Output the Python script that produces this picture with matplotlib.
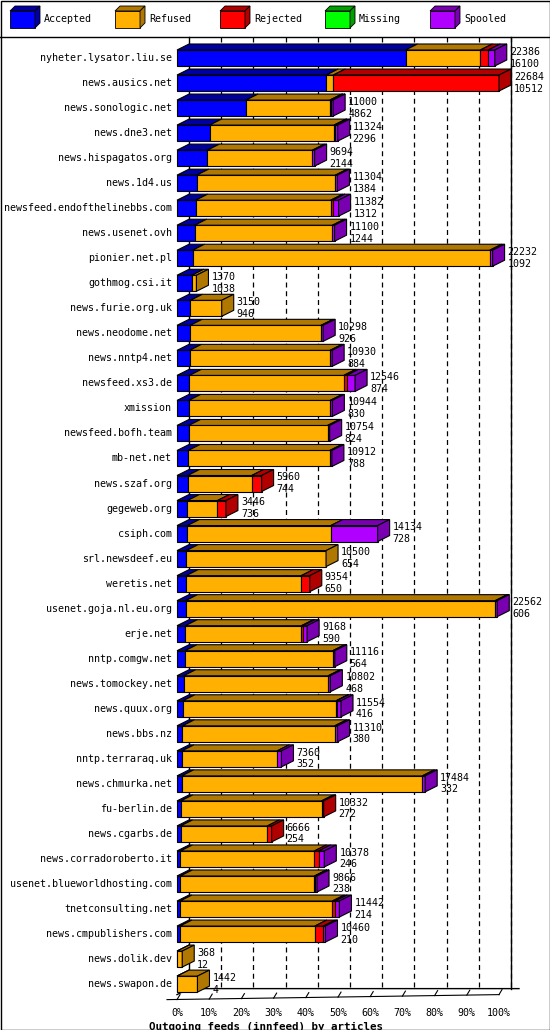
import matplotlib
matplotlib.use("Agg")
import matplotlib.pyplot as plt
from matplotlib.patches import Polygon, Rectangle

hosts = ["nyheter.lysator.liu.se", "news.ausics.net", "news.sonologic.net", "news.dne3.net",
         "news.hispagatos.org", "news.1d4.us", "newsfeed.endofthelinebbs.com", "news.usenet.ovh",
         "pionier.net.pl", "gothmog.csi.it", "news.furie.org.uk", "news.neodome.net",
         "news.nntp4.net", "newsfeed.xs3.de", "xmission", "newsfeed.bofh.team", "mb-net.net",
         "news.szaf.org", "gegeweb.org", "csiph.com", "srl.newsdeef.eu", "weretis.net",
         "usenet.goja.nl.eu.org", "erje.net", "nntp.comgw.net", "news.tomockey.net",
         "news.quux.org", "news.bbs.nz", "nntp.terraraq.uk", "news.chmurka.net", "fu-berlin.de",
         "news.cgarbs.de", "news.corradoroberto.it", "usenet.blueworldhosting.com",
         "tnetconsulting.net", "news.cmpublishers.com", "news.dolik.dev", "news.swapon.de"]
total = [22386, 22684, 11000, 11324, 9694, 11304, 11382, 11100, 22232, 1370, 3150, 10298,
         10930, 12546, 10944, 10754, 10912, 5960, 3446, 14134, 10500, 9354, 22562, 9168,
         11116, 10802, 11554, 11310, 7360, 17484, 10332, 6666, 10378, 9866, 11442, 10460, 368, 1442]
accepted = [16100, 10512, 4862, 2296, 2144, 1384, 1312, 1244, 1092, 1038, 946, 926, 884, 874,
            830, 824, 788, 744, 736, 728, 654, 650, 606, 590, 564, 468, 416, 380, 352, 332,
            272, 254, 246, 238, 214, 210, 12, 4]
rejected = [560, 11672, 80, 60, 0, 0, 150, 0, 0, 0, 0, 0, 0, 200, 0, 0, 0, 700, 600, 0, 0, 600,
            0, 100, 0, 0, 50, 0, 0, 0, 150, 300, 300, 30, 200, 600, 0, 0]
missing = [0] * len(hosts)
spooled = [456, 0, 150, 200, 150, 150, 400, 150, 200, 0, 0, 150, 150, 600, 150, 150, 150, 0, 0,
           3300, 0, 0, 150, 300, 150, 150, 300, 200, 300, 200, 0, 0, 400, 150, 300, 150, 0, 0]
refused = [t - a - r - m - s for t, a, r, m, s in zip(total, accepted, rejected, missing, spooled)]

names = ["Accepted", "Refused", "Rejected", "Missing", "Spooled"]
front = ["#0000ff", "#ffb000", "#ff0000", "#00ff00", "#b000ff"]
side = ["#0000a0", "#b07800", "#b00000", "#00a000", "#7800b0"]

W, H = 550, 1030
fig = plt.figure(figsize=(W / 100, H / 100), dpi=100)
fig.patch.set_facecolor("white")
mono = "DejaVu Sans Mono"
fs = 7.2

# pixel overlay for frames / legend
pax = fig.add_axes([0, 0, 1, 1])
pax.set_xlim(0, W)
pax.set_ylim(H, 0)
pax.axis("off")
pax.add_patch(Rectangle((0.5, 0.5), W - 1, H - 1, fill=False, lw=1, ec="black"))
pax.plot([0, W], [37, 37], color="black", lw=1)
lx = [10, 115, 220, 325, 430]
for x, n, f, s in zip(lx, names, front, side):
    pax.add_patch(Polygon([(x, 11), (x + 25, 11), (x + 25, 28), (x, 28)], fc=f, ec="black", lw=0.6))
    pax.add_patch(Polygon([(x, 11), (x + 5, 6), (x + 30, 6), (x + 25, 11)], fc=s, ec="black", lw=0.6))
    pax.add_patch(Polygon([(x + 25, 11), (x + 30, 6), (x + 30, 23), (x + 25, 28)], fc=s, ec="black", lw=0.6))
    pax.text(x + 34, 19, n, fontsize=fs, family=mono, va="center")

# data axes: x in articles, y in row index
k = max(total) / 322.0          # articles per pixel
y0, rs = 58.0, 25.03            # first row pixel, row spacing
ax = fig.add_axes([0, 0, 1, 1])
ax.set_xlim(-177 * k, (W - 177) * k)
ax.set_ylim((H - y0) / rs, -y0 / rs)
ax.axis("off")
dx, dy = 12 * k, -6 / rs
hh = 8 / rs
n = len(hosts)
ybot = n - 1 + hh + 0.1
ytop = -0.85

# back wall grid
for p in range(10, 101, 10):
    xv = max(total) * p / 100 + dx
    ax.plot([xv, xv], [ytop, ybot + dy], color="black", lw=0.9, ls=(0, (4, 3)), zorder=0)
ax.plot([dx, dx], [ytop, ybot + dy], color="black", lw=1, zorder=0)
ax.plot([max(total) + dx] * 2, [ytop, ybot + dy], color="black", lw=1, zorder=0)
ax.plot([0, dx, max(total) + dx + 8 * k], [ybot, ybot + dy, ybot + dy], color="black", lw=1, zorder=0)
ax.plot([-10 * k, max(total)], [ybot + 0.2, ybot], color="black", lw=0.8, zorder=0)

for i in range(n):
    segs = [accepted[i], refused[i], rejected[i], missing[i], spooled[i]]
    x = 0
    last = max(j for j, v in enumerate(segs) if v > 0)
    for j, v in enumerate(segs):
        if v <= 0:
            continue
        z = 2 + i
        ax.add_patch(Polygon([(x, i - hh), (x + v, i - hh), (x + v, i + hh), (x, i + hh)],
                             fc=front[j], ec="black", lw=0.8, zorder=z))
        ax.add_patch(Polygon([(x, i - hh), (x + dx, i - hh + dy), (x + v + dx, i - hh + dy), (x + v, i - hh)],
                             fc=side[j], ec="black", lw=0.8, zorder=z))
        if j == last:
            ax.add_patch(Polygon([(x + v, i - hh), (x + v + dx, i - hh + dy), (x + v + dx, i + hh + dy), (x + v, i + hh)],
                                 fc=side[j], ec="black", lw=0.8, zorder=z))
        x += v
    ax.text(-5 * k, i, hosts[i], ha="right", va="center", fontsize=fs, family=mono)
    ax.text(total[i] + dx + 3 * k, i - 0.25, str(total[i]), ha="left", va="center", fontsize=fs, family=mono, zorder=50)
    ax.text(total[i] + dx + 3 * k, i + 0.22, str(accepted[i]), ha="left", va="center", fontsize=fs, family=mono, zorder=50)

# x ticks
for p in range(0, 101, 10):
    xv = max(total) * p / 100
    yv = ybot + 0.2 - 0.002 * p
    ax.plot([xv, xv + 3 * k], [yv, yv - 0.2], color="black", lw=0.8)
    ax.text(xv, ybot + 0.75, f"{p}%", ha="center", va="center", fontsize=fs, family=mono)
ax.text(-28 * k, ybot + 1.3, "Outgoing feeds (innfeed) by articles", ha="left", va="center",
        fontsize=7.8, family=mono, weight="bold")

fig.savefig("out.png", dpi=100)
